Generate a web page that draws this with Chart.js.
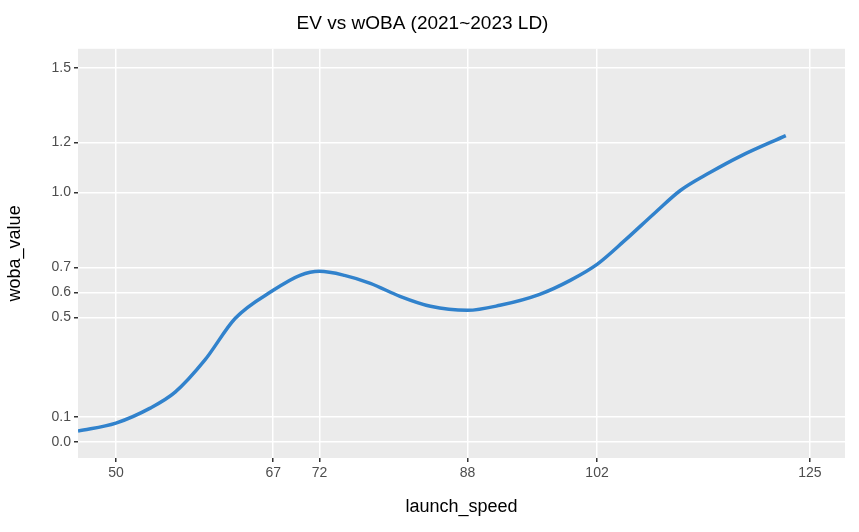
<!DOCTYPE html>
<html>
<head>
<script src="https://cdn.jsdelivr.net/npm/chart.js@4"></script>
<style>body{margin:0;background:#fff}#wrap{width:859px;height:532px}</style>
</head>
<body>
<div id="wrap"><canvas id="c"></canvas></div>
<script>
const speed = [45.9, 50, 53.7, 56.4, 59.6, 62.9, 67, 69.9, 72, 74.7, 77.5, 80.7, 84, 88, 91.5, 95.8, 99.1, 102, 105, 108.3, 111, 114.2, 117.4, 122.4]
const woba = [0.044, 0.076, 0.136, 0.2, 0.328, 0.496, 0.608, 0.668, 0.684, 0.668, 0.636, 0.584, 0.544, 0.528, 0.548, 0.592, 0.648, 0.712, 0.808, 0.92, 1.008, 1.08, 1.144, 1.228]
const xTicks = [50, 67, 72, 88, 102, 125]
const yTicks = [0, 0.1, 0.5, 0.6, 0.7, 1.0, 1.2, 1.5]

const font = 'Liberation Sans, Arial, sans-serif'
// grey panel behind the plot area
const panel = {
  id: 'panel',
  beforeDraw: chart => {
    const a = chart.chartArea, ctx = chart.ctx
    ctx.save()
    ctx.fillStyle = '#ebebeb'
    ctx.fillRect(a.left, a.top, a.right - a.left, a.bottom - a.top)
    ctx.restore()
  }
}

new Chart('c', {
  type: 'line',
  plugins: [panel],
  data: {
    datasets: [{
      data: speed.map((s, i) => ({ x: s, y: woba[i] })),
      borderColor: '#3182cc',
      borderWidth: 3.5,
      pointRadius: 0,
      cubicInterpolationMode: 'monotone',
      fill: false
    }]
  },
  options: {
    responsive: true,
    maintainAspectRatio: false,
    animation: false,
    layout: { padding: { top: 0, right: 14, left: 0, bottom: 10 } },
    plugins: {
      legend: { display: false },
      tooltip: { enabled: false },
      title: {
        display: true,
        text: 'EV vs wOBA (2021~2023 LD)',
        color: '#000',
        font: { family: font, size: 19, weight: 'normal' },
        padding: { top: 12, bottom: 14 }
      }
    },
    scales: {
      x: {
        type: 'linear',
        min: 45.9,
        max: 128.8,
        afterBuildTicks: ax => { ax.ticks = xTicks.map(v => ({ value: v })) },
        afterFit: ax => { ax.height = 64 },
        grid: { color: '#fff', lineWidth: 1.5, tickLength: 4, tickColor: '#333', drawOnChartArea: true },
        border: { display: false },
        ticks: { color: '#4d4d4d', font: { family: font, size: 14 }, padding: 3, autoSkip: false, maxRotation: 0 },
        title: { display: true, text: 'launch_speed', color: '#000', font: { family: font, size: 18 }, padding: { top: 2 } }
      },
      y: {
        min: -0.064,
        max: 1.576,
        afterBuildTicks: ax => { ax.ticks = yTicks.map(v => ({ value: v })) },
        afterFit: ax => { ax.width = 78 },
        grid: { color: '#fff', lineWidth: 1.5, tickLength: 4, tickColor: '#333' },
        border: { display: false },
        ticks: { color: '#4d4d4d', font: { family: font, size: 14 }, padding: 3, autoSkip: false, callback: v => v.toFixed(1) },
        title: { display: true, text: 'woba_value', color: '#000', font: { family: font, size: 18 }, padding: { bottom: 2 } }
      }
    }
  }
})
</script>
</body>
</html>
